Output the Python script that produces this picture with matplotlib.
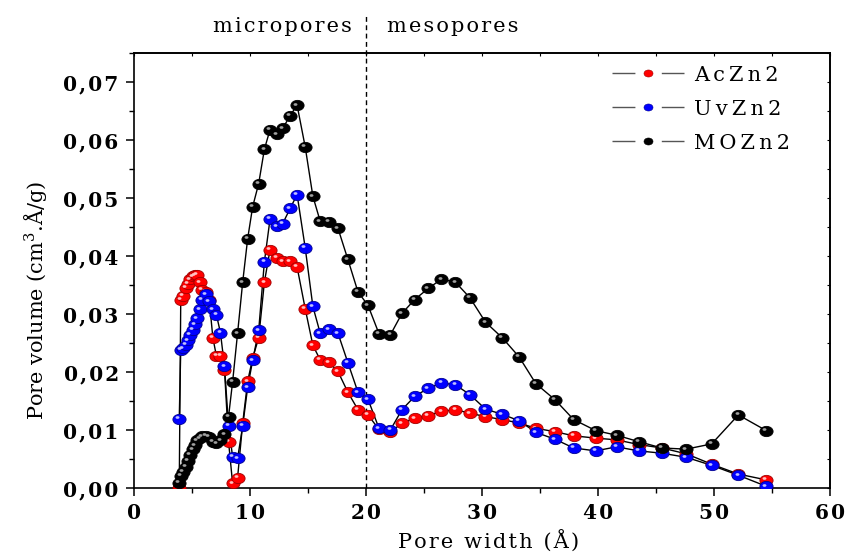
import matplotlib
matplotlib.use("Agg")
import matplotlib.pyplot as plt
import matplotlib.transforms as mtransforms
from matplotlib.path import Path
from matplotlib.lines import Line2D
from matplotlib.ticker import MultipleLocator, FuncFormatter

# ---------------- data ----------------
pore_width = [3.9, 4.03, 4.24, 4.45, 4.65, 4.85, 5.05, 5.25, 5.45, 5.65, 5.85, 6.2, 6.48, 6.8,
              7.1, 7.45, 7.8, 8.15, 8.5, 8.93, 9.37, 9.8, 10.23, 10.75, 11.24, 11.73, 12.3,
              12.82, 13.46, 14.06, 14.76, 15.42, 16.05, 16.77, 17.58, 18.44, 19.31, 20.17,
              21.12, 22.1, 23.1, 24.2, 25.36, 26.5, 27.7, 28.96, 30.3, 31.75, 33.2, 34.64,
              36.3, 37.9, 39.8, 41.6, 43.5, 45.5, 47.6, 49.8, 52.1, 54.5]

AcZn2 = [0.0, 0.0325, 0.0331, 0.0345, 0.0352, 0.0360, 0.0365, 0.0367, 0.0368, 0.0355, 0.0342,
         0.0338, 0.0325, 0.0259, 0.0228, 0.0228, 0.0204, 0.0080, 0.0008, 0.0018, 0.0112,
         0.0184, 0.0224, 0.0259, 0.0355, 0.0411, 0.0397, 0.0391, 0.0391, 0.0381, 0.0309,
         0.0246, 0.0221, 0.0217, 0.0201, 0.0165, 0.0135, 0.0126, 0.0101, 0.0096, 0.0112,
         0.0120, 0.0125, 0.0132, 0.0135, 0.0129, 0.0123, 0.0118, 0.0112, 0.0103, 0.0097,
         0.0090, 0.0086, 0.0083, 0.0075, 0.0069, 0.0059, 0.0041, 0.0024, 0.0014]

UvZn2 = [0.0119, 0.0238, 0.0241, 0.0247, 0.0255, 0.0264, 0.0273, 0.0282, 0.0293, 0.0308, 0.0325,
         0.0334, 0.0322, 0.0308, 0.0299, 0.0268, 0.0210, 0.0107, 0.0054, 0.0051, 0.0107,
         0.0174, 0.0220, 0.0272, 0.0390, 0.0464, 0.0451, 0.0456, 0.0482, 0.0506, 0.0414,
         0.0313, 0.0267, 0.0274, 0.0267, 0.0216, 0.0165, 0.0153, 0.0103, 0.0100, 0.0135,
         0.0158, 0.0172, 0.0181, 0.0178, 0.0161, 0.0136, 0.0127, 0.0116, 0.0096, 0.0084,
         0.0069, 0.0064, 0.0071, 0.0064, 0.0060, 0.0053, 0.0039, 0.0022, 0.0003]

MOZn2 = [0.0009, 0.0021, 0.0028, 0.0037, 0.0047, 0.0057, 0.0067, 0.0074, 0.0082, 0.0086, 0.0089,
         0.0090, 0.0088, 0.0080, 0.0077, 0.0082, 0.0093, 0.0123, 0.0183, 0.0267, 0.0355,
         0.0430, 0.0485, 0.0525, 0.0584, 0.0618, 0.0610, 0.0620, 0.0642, 0.0660, 0.0588,
         0.0503, 0.0460, 0.0459, 0.0448, 0.0394, 0.0338, 0.0315, 0.0266, 0.0264, 0.0301,
         0.0325, 0.0344, 0.0360, 0.0355, 0.0328, 0.0286, 0.0259, 0.0226, 0.0180, 0.0152,
         0.0118, 0.0099, 0.0091, 0.0080, 0.0069, 0.0067, 0.0076, 0.0126, 0.0099]

series_names = ["AcZn2", "UvZn2", "MOZn2"]
series_values = [AcZn2, UvZn2, MOZn2]
boundary = 20
region_labels = ["micropores", "mesopores"]

# ---------------- style ----------------
colors = ["#ff0000", "#0000ff", "#000000"]
edge_colors = ["#a00000", "#000090", "#000000"]
highlights = ["#ffc0c0", "#c0c0ff", "#a0a0a0"]

SERIF = ["DejaVu Serif"]
plt.rcParams["font.family"] = SERIF
plt.rcParams["mathtext.fontset"] = "dejavuserif"

HS = "\u200a"
TS = "\u2009"


def spaced(s, sep=HS):
    return sep.join(list(s))


ellipse = Path.unit_circle().transformed(mtransforms.Affine2D().scale(1.0, 0.78))
small_ell = Path.unit_circle().transformed(mtransforms.Affine2D().scale(1.0, 0.7))

fig = plt.figure(figsize=(8.46, 5.53), dpi=100)
ax = fig.add_axes([134 / 846, 65 / 553, 696 / 846, 435 / 553])

hl_trans = mtransforms.offset_copy(ax.transData, fig=fig, x=-1.3, y=1.1, units="points")

for name, vals, c, ec, hc in zip(series_names, series_values, colors, edge_colors, highlights):
    ax.plot(pore_width, vals, color="black", lw=1.0, zorder=2)
    ax.plot(pore_width, vals, ls="none", marker=ellipse, markersize=9.5,
            mfc=c, mec=ec, mew=0.6, zorder=3)
    ax.plot(pore_width, vals, ls="none", marker=small_ell, markersize=2.8,
            mfc=hc, mec="none", zorder=3, transform=hl_trans)

ax.set_xlim(0, 60)
ax.set_ylim(0, 0.075)
ax.xaxis.set_major_locator(MultipleLocator(10))
ax.xaxis.set_minor_locator(MultipleLocator(5))
ax.yaxis.set_major_locator(MultipleLocator(0.01))
ax.yaxis.set_minor_locator(MultipleLocator(0.005))
ax.yaxis.set_major_formatter(FuncFormatter(lambda v, p: spaced(f"{v:.2f}".replace(".", ","))))
ax.xaxis.set_major_formatter(FuncFormatter(lambda v, p: spaced(f"{v:.0f}")))

for sp in ax.spines.values():
    sp.set_linewidth(1.2)

ax.tick_params(which="major", direction="out", length=6, width=1.1, labelsize=14.5, pad=5)
ax.tick_params(which="minor", direction="out", length=3.5, width=1.0)
for lab in ax.get_xticklabels() + ax.get_yticklabels():
    lab.set_fontweight("bold")

# inward ticks on top and right
secx = ax.secondary_xaxis("top")
secx.xaxis.set_major_locator(MultipleLocator(10))
secx.xaxis.set_minor_locator(MultipleLocator(5))
secx.tick_params(which="both", direction="in", length=2.5, width=0.8, labeltop=False)
secx.spines["top"].set_linewidth(1.2)
secy = ax.secondary_yaxis("right")
secy.yaxis.set_major_locator(MultipleLocator(0.01))
secy.yaxis.set_minor_locator(MultipleLocator(0.005))
secy.tick_params(which="both", direction="in", length=2.5, width=0.8, labelright=False)
secy.spines["right"].set_linewidth(1.2)

# labels
ax.set_xlabel(spaced("Pore width (Å)"), fontsize=15, va="center")
ax.xaxis.set_label_coords(0.51, -0.12)
ax.set_ylabel(r"Pore volume (cm$^{3}$.Å/g)", fontsize=15, va="center")
ax.yaxis.set_label_coords(-0.142, 0.432)

# boundary line micro/meso
ax.axvline(boundary, ymin=0, ymax=(488 - 13) / 435, ls=(0, (3.5, 2.5)), color="black",
           lw=1.0, clip_on=False, zorder=1)
fig.text(282.5 / 846, 1 - 27 / 553, spaced(region_labels[0]), fontsize=15,
         ha="center", va="center")
fig.text(452.5 / 846, 1 - 27 / 553, spaced(region_labels[1]), fontsize=15,
         ha="center", va="center")

# legend
handles = []
for name, c, ec in zip(series_names, colors, edge_colors):
    handles.append(Line2D([], [], color="#555555", lw=1.0, dashes=(16.5, 19),
                          marker=ellipse, markersize=6.5, mfc=c, mec=ec, mew=0.4,
                          label=spaced(name, TS)))
leg = ax.legend(handles=handles, loc="upper left", bbox_to_anchor=(0.675, 0.99),
                frameon=False, fontsize=15, handlelength=3.47, numpoints=1,
                handletextpad=0.45, labelspacing=0.72, borderaxespad=0)

fig.savefig("out.png", dpi=100)
